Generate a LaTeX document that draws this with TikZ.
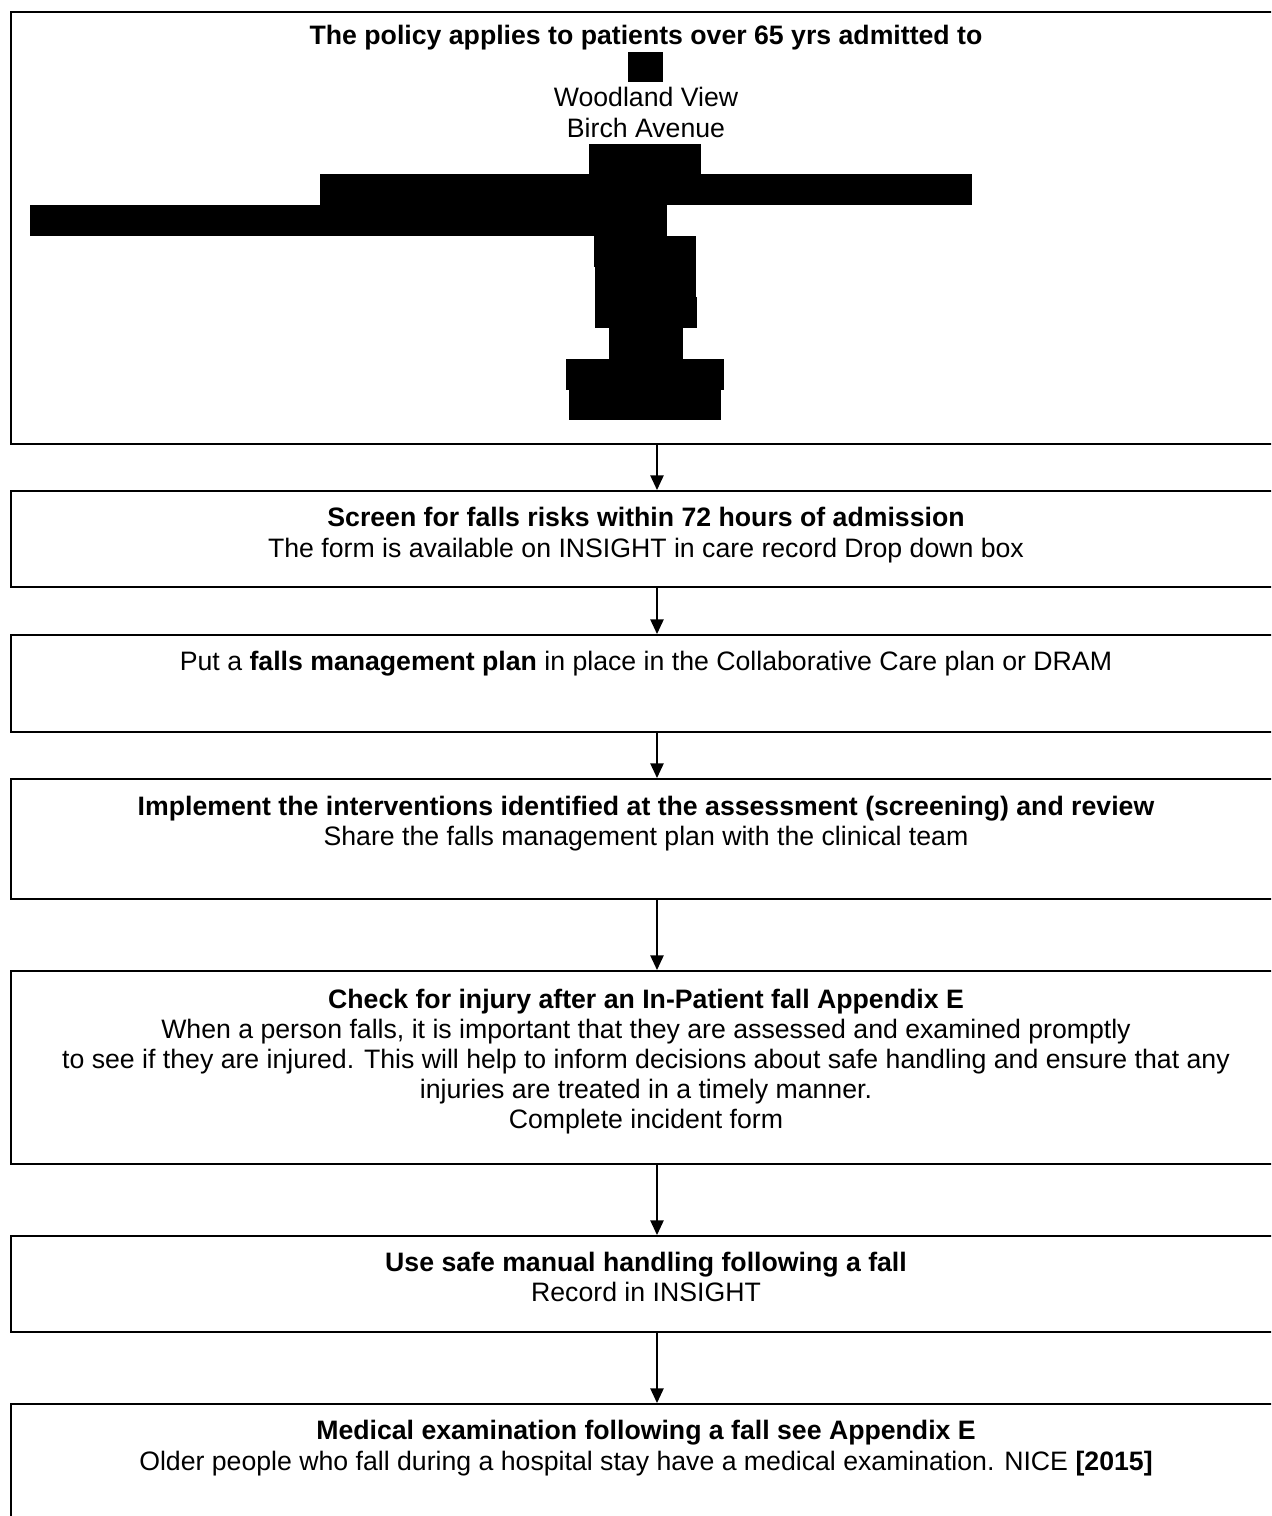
\documentclass[tikz,border=0pt]{standalone}
\usepackage{fontspec}
\setmainfont{Liberation Sans}
\usetikzlibrary{arrows.meta}
\begin{document}
\begin{tikzpicture}[x=0.75pt,y=-0.75pt,
  box/.style={draw=black,line width=1.6pt,rectangle,inner sep=0pt,minimum width=955pt,anchor=north west},
  txt/.style={anchor=base,inner sep=0pt,font=\fontsize{20}{23}\selectfont},
  btxt/.style={txt,font=\fontsize{20}{23}\selectfont\bfseries},
  conn/.style={line width=1.1pt,-{Triangle[length=11pt,width=10pt]}},
  redact/.style={fill=black,draw=none}]
\useasboundingbox (0,0) rectangle (1271,1516);
\clip (0,0) rectangle (1271,1516);
\fill[white] (0,0) rectangle (1271,1516);
% boxes
\node[box,minimum height=324pt] (b1) at (10,11) {};
\node[box,minimum height=72pt] (b2) at (10,490) {};
\node[box,minimum height=72.75pt] (b3) at (10,634) {};
\node[box,minimum height=90pt] (b4) at (10,778) {};
\node[box,minimum height=144.75pt] (b5) at (10,970) {};
\node[box,minimum height=72pt] (b6) at (10,1235) {};
\node[box,minimum height=120pt] (b7) at (10,1403) {};
% column for connectors
\coordinate (ax) at (657,0);
\draw[conn] (b1.south -| ax) -- (b2.north -| ax);
\draw[conn] (b2.south -| ax) -- (b3.north -| ax);
\draw[conn] (b3.south -| ax) -- (b4.north -| ax);
\draw[conn] (b4.south -| ax) -- (b5.north -| ax);
\draw[conn] (b5.south -| ax) -- (b6.north -| ax);
\draw[conn] (b6.south -| ax) -- (b7.north -| ax);
% box 1 text
\node[btxt] (t1a) at (646,45) {The policy applies to patients over 65 yrs admitted to};
\node[txt] (t1b) at (646,107) {Woodland View};
\node[txt] (t1c) at (646,138) {Birch Avenue};
% redactions
\fill[redact] (628,52) rectangle (663,82);
\fill[redact] (589,144) rectangle (701,175);
\fill[redact] (320,174) rectangle (972,205);
\fill[redact] (30,205) rectangle (667,236);
\fill[redact] (594,236) rectangle (696,267);
\fill[redact] (595,267) rectangle (696,298);
\fill[redact] (595,297) rectangle (697,328);
\fill[redact] (609,328) rectangle (683,359);
\fill[redact] (566,359) rectangle (724,390);
\fill[redact] (569,390) rectangle (721,420);
% box 2
\node[btxt] (t2a) at (646,526) {Screen for falls risks within 72 hours of admission};
\node[txt] (t2b) at (646,557) {The form is available on INSIGHT in care record Drop down box};
% box 3
\node[txt] (t3a) at (646,670) {Put a \textbf{falls management plan} in place in the Collaborative Care plan or DRAM};
% box 4
\node[btxt] (t4a) at (646,815) {Implement the interventions identified at the assessment (screening) and review};
\node[txt] (t4b) at (646,845) {Share the falls management plan with the clinical team};
% box 5
\node[btxt] (t5a) at (646,1008) {Check for injury after an In-Patient fall Appendix E};
\node[txt] (t5b) at (646,1038) {When a person falls, it is important that they are assessed and examined promptly};
\node[txt] (t5c) at (646,1068) {to see if they are injured. This will help to inform decisions about safe handling and ensure that any};
\node[txt] (t5d) at (646,1098) {injuries are treated in a timely manner.};
\node[txt] (t5e) at (646,1128) {Complete incident form};
% box 6
\node[btxt] (t6a) at (646,1271) {Use safe manual handling following a fall};
\node[txt] (t6b) at (646,1301) {Record in INSIGHT};
% box 7
\node[btxt] (t7a) at (646,1439) {Medical examination following a fall see Appendix E};
\node[txt] (t7b) at (646,1470) {Older people who fall during a hospital stay have a medical examination. NICE \textbf{[2015]}};
\end{tikzpicture}
\end{document}
